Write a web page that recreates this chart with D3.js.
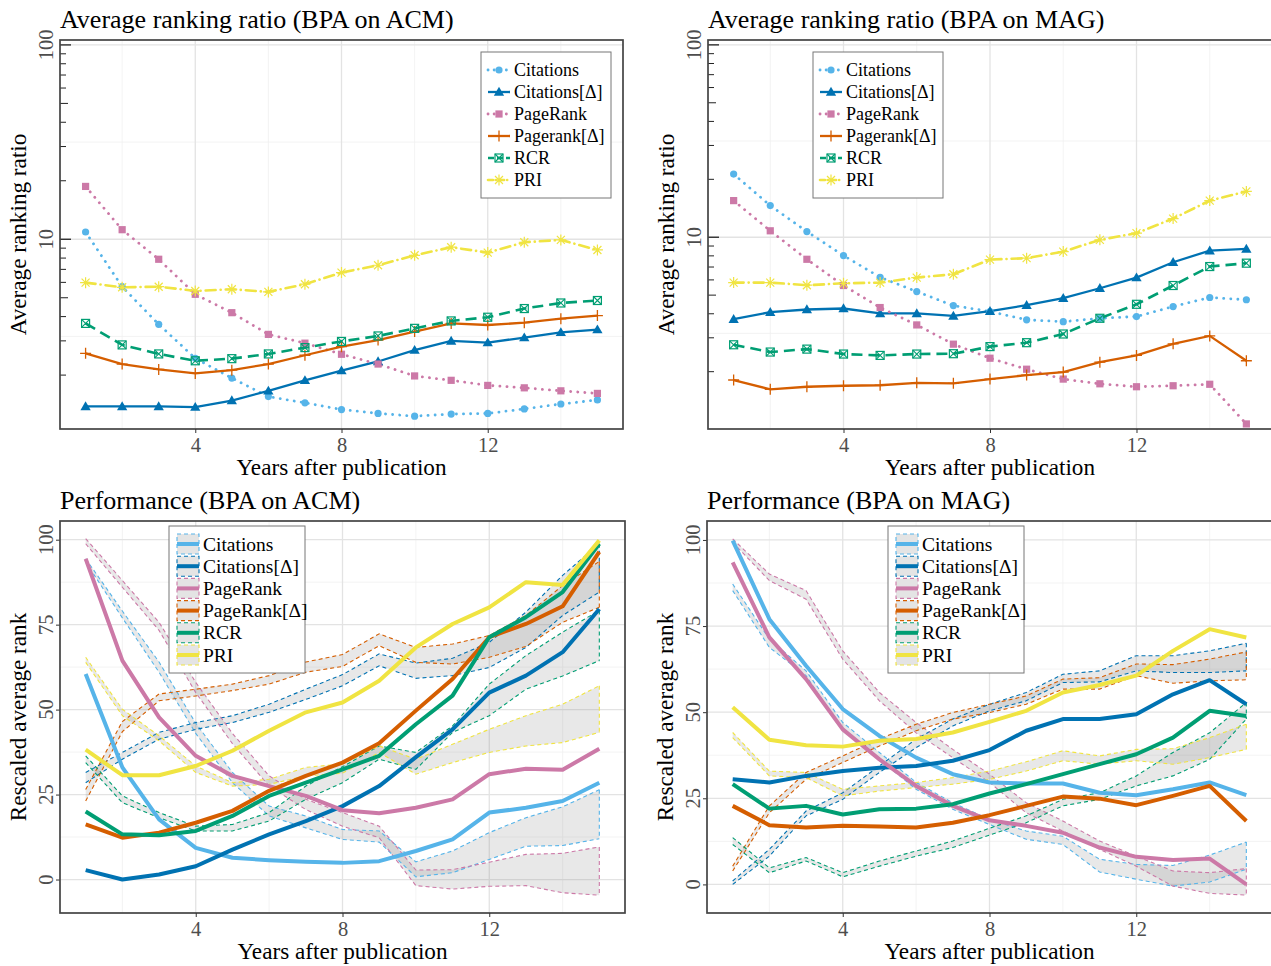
<!DOCTYPE html>
<html><head><meta charset="utf-8">
<script src="https://cdn.jsdelivr.net/npm/d3@7"></script>
<style>body{margin:0;background:#fff} text{font-family:"Liberation Serif","Times New Roman",serif}</style>
</head><body><svg id="c" width="1271" height="966"></svg>
<script>
// ---------- data ----------
const years = [1,2,3,4,5,6,7,8,9,10,11,12,13,14,15];
const ratioNames = ["Citations","Citations[Δ]","PageRank","Pagerank[Δ]","RCR","PRI"];
const perfNames  = ["Citations","Citations[Δ]","PageRank","PageRank[Δ]","RCR","PRI"];
const xTickValues = [4,8,12];
const logTickLabels = [10,100];
const perfTickValues = [0,25,50,75,100];

// Average ranking ratio, ACM
const ratioACM_Citations  = [10.9,5.7,3.65,2.44,1.93,1.55,1.44,1.33,1.27,1.23,1.26,1.27,1.34,1.42,1.49];
const ratioACM_CitationsD = [1.38,1.38,1.38,1.37,1.48,1.66,1.88,2.11,2.35,2.69,3.0,2.94,3.12,3.32,3.43];
const ratioACM_PageRank   = [18.7,11.2,7.89,5.21,4.19,3.24,2.92,2.56,2.28,1.98,1.88,1.77,1.72,1.66,1.61];
const ratioACM_PageRankD  = [2.59,2.28,2.14,2.04,2.12,2.28,2.53,2.80,3.03,3.35,3.69,3.62,3.72,3.90,4.05];
const ratioACM_RCR        = [3.69,2.86,2.57,2.37,2.43,2.57,2.77,2.98,3.18,3.48,3.80,3.97,4.40,4.70,4.84];
const ratioACM_PRI        = [5.98,5.66,5.70,5.42,5.53,5.36,5.87,6.74,7.35,8.27,9.1,8.54,9.65,9.92,8.81];

// Average ranking ratio, MAG
const ratioMAG_Citations  = [21.3,14.6,10.7,8.03,6.19,5.22,4.41,4.11,3.72,3.64,3.79,3.87,4.36,4.86,4.73];
const ratioMAG_CitationsD = [3.75,4.08,4.21,4.26,4.02,4.02,3.90,4.13,4.43,4.82,5.43,6.17,7.41,8.52,8.70];
const ratioMAG_PageRank   = [15.5,10.8,7.68,5.61,4.31,3.50,2.78,2.35,2.06,1.83,1.73,1.67,1.69,1.72,1.07];
const ratioMAG_PageRankD  = [1.81,1.62,1.67,1.69,1.70,1.75,1.74,1.83,1.92,1.99,2.24,2.43,2.79,3.07,2.28];
const ratioMAG_RCR        = [2.76,2.53,2.62,2.47,2.43,2.47,2.48,2.70,2.83,3.14,3.79,4.48,5.61,7.04,7.33];
const ratioMAG_PRI        = [5.81,5.81,5.63,5.76,5.81,6.17,6.42,7.65,7.78,8.42,9.69,10.5,12.5,15.5,17.3];

// Performance, ACM (main lines)
const perfACM_Citations  = [60.5,33,17.7,9.3,6.4,5.7,5.2,4.9,5.4,8.4,11.8,19.7,21.1,23.1,28.5];
const perfACM_CitationsD = [2.75,0,1.5,3.9,8.8,13.3,17.2,21.6,27.5,36,44.2,55,60,66.9,79.6];
const perfACM_PageRank   = [94.4,64.4,47.7,36.4,30.5,27.5,24.6,20.4,19.5,21.1,23.6,31,32.6,32.3,38.5];
const perfACM_PageRankD  = [16.2,12.3,13.8,16.7,20.2,26.1,30.5,34.4,40.1,49.7,59,71.3,75.2,80.4,96.4];
const perfACM_RCR        = [20,13.3,13,14.3,18.7,24.6,28.5,32.4,36.4,45.7,54.1,71.3,77.2,84.6,98.8];
const perfACM_PRI        = [38.2,30.7,30.7,33.4,37.9,43.8,49.2,52.1,58.5,68.3,75.2,80.1,87.5,86.7,99.8];
// Performance, ACM (band bounds)
const perfACM_Citations_hi  = [94.4,79,64,46,31.5,21.6,18.7,14.7,14.3,5.2,8.4,13.8,18.2,21.4,26.4];
const perfACM_Citations_lo  = [93.4,77,61,43,28.5,18.7,15.2,11.8,11,0.8,2.0,5.9,9.8,10,12];
const perfACM_CitationsD_hi = [31.5,37.4,43.3,46.2,48.2,51.6,56,60.3,66.4,63.7,65.1,69.8,78.7,89.5,98.8];
const perfACM_CitationsD_lo = [28.5,35.4,41.3,44.2,46.2,49.2,53,57,62.9,59.2,60,62.4,68.3,77.7,84.6];
const perfACM_PageRank_hi   = [100.3,88,75.7,58,43,30.5,23.6,19.7,15.7,2.8,2.9,5.1,7.4,7.7,9.6];
const perfACM_PageRank_lo   = [98.8,86,73.3,55,40,27.5,20.6,15.7,12.3,-1.8,-2.8,-2.0,-1.8,-3.9,-4.6];
const perfACM_PageRankD_hi  = [26.5,46.5,54.6,56,57.5,60,64,66.2,72.3,68.3,69.3,71.8,77.7,86.5,93.6];
const perfACM_PageRankD_lo  = [23.1,43.5,52.6,54,55.6,57.5,61,62.7,68.8,63.9,63.4,65.4,68.6,75.7,80.1];
const perfACM_RCR_hi        = [36.4,24.6,19.7,15.7,16.2,19.7,27.5,33.2,39.3,37.4,45.2,57.5,65.9,72.8,79.2];
const perfACM_RCR_lo        = [34.4,22.6,18.2,14.3,14.3,17.2,23.6,28.5,35.4,32.4,43.3,48.2,56,59.9,64.4];
const perfACM_PRI_hi        = [65.4,50.1,42.3,33.4,28.5,29.5,33,34,39.3,35.4,39.8,44.2,48.2,51.6,57];
const perfACM_PRI_lo        = [63.9,48.2,40.8,31.5,27.5,28,30.5,31.3,37.4,31,34.4,37.4,39.3,40.3,43.3];

// Performance, MAG (main lines)
const perfMAG_Citations  = [99.8,77,63.5,50.9,43.1,36.8,32,29.6,29.3,29.3,26.6,25.9,27.6,29.6,25.9];
const perfMAG_CitationsD = [30.5,29.6,31.5,32.9,33.9,34.4,35.9,39,44.6,48,48,49.4,55.2,59.3,52.3];
const perfMAG_PageRank   = [93.5,71.7,59.6,45,36.3,28.6,22.8,18.6,17,15,10.7,8,7.1,7.5,0];
const perfMAG_PageRankD  = [22.8,17.2,16.5,17,16.8,16.5,17.9,20.1,22.8,25.5,24.9,23,25.7,28.6,18.4];
const perfMAG_RCR        = [29.1,22,22.8,20.3,21.8,22,23.3,26.4,29.1,32,34.9,37.8,42.6,50.4,48.9];
const perfMAG_PRI        = [51.4,42,40.4,40,41.7,42.2,44.1,47.2,50.4,55.7,57.9,60.6,67.8,74.1,71.7];
// Performance, MAG (band bounds)
const perfMAG_Citations_hi  = [87.2,71.2,62,47,38.3,29.6,23.7,18.9,15.5,14,7.3,5.8,5.5,8.5,12.3];
const perfMAG_Citations_lo  = [85.3,68.8,60.6,44.6,36.3,27.6,21.8,17.4,13.1,11.6,3.6,1.5,-0.5,0.7,4.4];
const perfMAG_CitationsD_hi = [1,10.2,21.3,26.6,34.4,42.2,48,52.3,55.7,61,62,66.4,66.4,67.8,70];
const perfMAG_CitationsD_lo = [0,8.2,19.9,24.7,32.5,39.7,46,50.4,53.3,58.6,58.8,62,61.5,61.5,62];
const perfMAG_PageRank_hi   = [100.3,90.1,85.3,67.8,55.7,47,39.2,32,23.7,18.4,12.6,8.2,3.9,3.4,4.6];
const perfMAG_PageRank_lo   = [99.3,88.2,82.8,65.4,53.3,44,36.8,29.6,20.8,15.5,10.2,5.3,-0.5,-2.6,-3.1];
const perfMAG_PageRankD_hi  = [5.3,22.8,32.5,37.3,42.2,46.5,49.9,52.3,54.7,59.6,60,64,63.8,65.4,67.5];
const perfMAG_PageRankD_lo  = [3.9,20.8,30.5,35.4,40.2,44.6,48,49.9,52.3,56.7,56.7,60.6,58.4,59.1,59.4];
const perfMAG_RCR_hi        = [13.6,4.8,7.8,3.4,6.8,9.7,12.6,16.3,19.9,24.7,26.6,31.5,38.3,44,52.8];
const perfMAG_RCR_lo        = [11.6,3.4,6.8,2.2,5.3,8.2,10.7,14.3,17.9,22.8,24.7,28.6,31.5,36.3,48];
const perfMAG_PRI_hi        = [44.1,32.9,32.5,27.6,28.6,29.6,31,32.9,35.6,38.8,37.3,39.2,39.4,42.6,46.5];
const perfMAG_PRI_lo        = [42.6,31.5,31,25.7,27.1,28.1,29.1,30.5,32.9,35.9,34.9,35.9,34.9,36.8,39.2];

// ---------- styles ----------
const colors = ["#56B4E9","#0072B2","#CC79A7","#D55E00","#009E73","#F0E442"];
const ratioStyles = [
  {dash:"0.1,7", width:2.8, cap:"round", marker:"circle"},
  {dash:null, width:2.3, cap:"butt", marker:"triangle"},
  {dash:"0.1,7", width:2.8, cap:"round", marker:"square"},
  {dash:null, width:2.3, cap:"butt", marker:"plus"},
  {dash:"11,6", width:2.6, cap:"butt", marker:"squarex"},
  {dash:"10,5,0.1,5", width:2.6, cap:"round", marker:"asterisk"}
];
const FONT = '"Liberation Serif","Times New Roman",serif';
const svg = d3.select("#c");

function drawMarker(g, type, cx, cy, color){
  if(type==="circle"){ g.append("circle").attr("cx",cx).attr("cy",cy).attr("r",3.6).attr("fill",color); }
  else if(type==="triangle"){ g.append("path").attr("transform",`translate(${cx},${cy+0.8})`).attr("d",d3.symbol(d3.symbolTriangle,46)()).attr("fill",color); }
  else if(type==="square"){ g.append("rect").attr("x",cx-3.6).attr("y",cy-3.6).attr("width",7.2).attr("height",7.2).attr("fill",color); }
  else if(type==="plus"){ g.append("path").attr("d",`M${cx-5.5},${cy}H${cx+5.5}M${cx},${cy-5.5}V${cy+5.5}`).attr("stroke",color).attr("stroke-width",1.3).attr("fill","none"); }
  else if(type==="squarex"){
    g.append("rect").attr("x",cx-4).attr("y",cy-4).attr("width",8).attr("height",8).attr("fill","none").attr("stroke",color).attr("stroke-width",1.2);
    g.append("path").attr("d",`M${cx-4},${cy-4}L${cx+4},${cy+4}M${cx+4},${cy-4}L${cx-4},${cy+4}`).attr("stroke",color).attr("stroke-width",1.1);
  } else if(type==="asterisk"){
    g.append("path").attr("d",`M${cx-5.5},${cy}H${cx+5.5}M${cx},${cy-5.5}V${cy+5.5}M${cx-4},${cy-4}L${cx+4},${cy+4}M${cx+4},${cy-4}L${cx-4},${cy+4}`).attr("stroke",color).attr("stroke-width",1.2).attr("fill","none");
  }
}

let clipId = 0;
function panelBase(p, x, y, xGridMinor, yMajor, yMinor){
  const g = svg.append("g");
  const id = "clip"+(clipId++);
  svg.append("defs").append("clipPath").attr("id",id).append("rect")
    .attr("x",p.x0).attr("y",p.y0).attr("width",p.x1-p.x0).attr("height",p.y1-p.y0);
  const grid = g.append("g");
  xGridMinor.forEach(v=>grid.append("line").attr("x1",x(v)).attr("x2",x(v)).attr("y1",p.y0).attr("y2",p.y1).attr("stroke","#f0f0f0").attr("stroke-width",0.8));
  yMinor.forEach(v=>grid.append("line").attr("y1",y(v)).attr("y2",y(v)).attr("x1",p.x0).attr("x2",p.x1).attr("stroke","#f0f0f0").attr("stroke-width",0.8));
  xTickValues.forEach(v=>grid.append("line").attr("x1",x(v)).attr("x2",x(v)).attr("y1",p.y0).attr("y2",p.y1).attr("stroke","#e3e3e3").attr("stroke-width",1.3));
  yMajor.forEach(v=>grid.append("line").attr("y1",y(v)).attr("y2",y(v)).attr("x1",p.x0).attr("x2",p.x1).attr("stroke","#e3e3e3").attr("stroke-width",1.3));
  const plot = g.append("g").attr("clip-path",`url(#${id})`);
  return {g, plot};
}

function frameAndAxes(g, p, x, title, ytitle, titleX){
  g.append("rect").attr("x",p.x0).attr("y",p.y0).attr("width",p.x1-p.x0).attr("height",p.y1-p.y0)
    .attr("fill","none").attr("stroke","#444").attr("stroke-width",1.7);
  const xa = g.append("g").attr("transform",`translate(0,${p.y1})`)
    .call(d3.axisBottom(x).tickValues(xTickValues).tickSize(4).tickPadding(4).tickFormat(d3.format("d")));
  xa.select(".domain").remove();
  xa.selectAll("line").attr("stroke","#333");
  xa.selectAll("text").attr("font-family",FONT).attr("font-size",20.5).attr("fill","#4d4d4d");
  g.append("text").attr("x",(p.x0+p.x1)/2).attr("y",p.y1+46).attr("text-anchor","middle")
    .attr("font-size",23.2).attr("font-family",FONT).text("Years after publication");
  g.append("text").attr("x",titleX).attr("y",p.y0-12).attr("font-size",26).attr("font-family",FONT).text(title);
  g.append("text").attr("transform",`translate(${p.x0-34},${(p.y0+p.y1)/2}) rotate(-90)`).attr("text-anchor","middle")
    .attr("font-size",23.2).attr("font-family",FONT).text(ytitle);
}

function ratioPanel(p, series, yDomain, title, legendX){
  const x = d3.scaleLinear().domain([0.3,15.7]).range([p.x0,p.x1]);
  const y = d3.scaleLog().domain(yDomain).range([p.y1,p.y0]);
  const {g, plot} = panelBase(p, x, y, [2,6,10,14], [10,100], [Math.sqrt(10), Math.sqrt(1000)]);
  const line = d3.line().x((d,i)=>x(years[i])).y(d=>y(d));
  series.forEach((s,k)=>{
    const st = ratioStyles[k];
    plot.append("path").attr("d",line(s)).attr("fill","none").attr("stroke",colors[k])
      .attr("stroke-width",st.width).attr("stroke-linecap",st.cap).attr("stroke-dasharray",st.dash);
  });
  series.forEach((s,k)=>{
    s.forEach((v,i)=>drawMarker(plot, ratioStyles[k].marker, x(years[i]), y(v), colors[k]));
  });
  // log ticks inside left border
  const lt = g.append("g");
  [1,10].forEach(dec=>{
    [2,3,4,5,6,7,8,9].forEach(m=>{
      const v=dec*m; const len = m===5?8:6;
      lt.append("line").attr("x1",p.x0).attr("x2",p.x0+len).attr("y1",y(v)).attr("y2",y(v)).attr("stroke","#222").attr("stroke-width",1);
    });
  });
  logTickLabels.forEach(v=>{
    lt.append("line").attr("x1",p.x0).attr("x2",p.x0+11).attr("y1",y(v)).attr("y2",y(v)).attr("stroke","#222").attr("stroke-width",1.3);
    g.append("text").attr("transform",`translate(${p.x0-7},${y(v)}) rotate(-90)`).attr("text-anchor","middle")
      .attr("font-size",20.5).attr("font-family",FONT).attr("fill","#4d4d4d").text(v);
  });
  frameAndAxes(g, p, x, title, "Average ranking ratio", p.x0);
  // legend
  const lg = g.append("g");
  lg.append("rect").attr("x",legendX).attr("y",52).attr("width",130).attr("height",146).attr("fill","#fff").attr("stroke","#777").attr("stroke-width",1);
  ratioNames.forEach((n,k)=>{
    const cy = 70 + k*22; const st = ratioStyles[k];
    lg.append("line").attr("x1",legendX+7).attr("x2",legendX+29).attr("y1",cy).attr("y2",cy)
      .attr("stroke",colors[k]).attr("stroke-width",st.width).attr("stroke-linecap",st.cap)
      .attr("stroke-dasharray", st.dash ? (k===0||k===2 ? "0.1,6" : (k===4?"6,3":"5,3,0.1,3")) : null);
    drawMarker(lg, st.marker, legendX+18, cy, colors[k]);
    lg.append("text").attr("x",legendX+33).attr("y",cy+6).attr("font-size",18).attr("font-family",FONT).text(n);
  });
}

function perfPanel(p, mains, his, los, yDomain, title, legendX){
  const x = d3.scaleLinear().domain([0.3,15.7]).range([p.x0,p.x1]);
  const y = d3.scaleLinear().domain(yDomain).range([p.y1,p.y0]);
  const {g, plot} = panelBase(p, x, y, [2,6,10,14], perfTickValues, [12.5,37.5,62.5,87.5]);
  const area = d3.area().x((d,i)=>x(years[i])).y0(d=>y(d[1])).y1(d=>y(d[0]));
  const line = d3.line().x((d,i)=>x(years[i])).y(d=>y(d));
  mains.forEach((s,k)=>{
    const pairs = his[k].map((h,i)=>[h,los[k][i]]);
    plot.append("path").attr("d",area(pairs)).attr("fill","#808080").attr("fill-opacity",0.18);
  });
  mains.forEach((s,k)=>{
    [his[k],los[k]].forEach(b=>plot.append("path").attr("d",line(b)).attr("fill","none").attr("stroke",colors[k])
      .attr("stroke-width",1.1).attr("stroke-dasharray","4,3"));
    plot.append("line").attr("x1",x(15)).attr("x2",x(15)).attr("y1",y(his[k][14])).attr("y2",y(los[k][14]))
      .attr("stroke",colors[k]).attr("stroke-width",1.1).attr("stroke-dasharray","4,3");
  });
  mains.forEach((s,k)=>{
    plot.append("path").attr("d",line(s)).attr("fill","none").attr("stroke",colors[k]).attr("stroke-width",4).attr("stroke-linejoin","round");
  });
  const ya = g.append("g").attr("transform",`translate(${p.x0},0)`)
    .call(d3.axisLeft(y).tickValues(perfTickValues).tickSize(4).tickFormat(()=>""));
  ya.select(".domain").remove();
  ya.selectAll("line").attr("stroke","#333");
  perfTickValues.forEach(v=>{
    g.append("text").attr("transform",`translate(${p.x0-7},${y(v)}) rotate(-90)`).attr("text-anchor","middle")
      .attr("font-size",20.5).attr("font-family",FONT).attr("fill","#4d4d4d").text(v);
  });
  frameAndAxes(g, p, x, title, "Rescaled average rank", p.x0);
  const lg = g.append("g");
  lg.append("rect").attr("x",legendX).attr("y",526).attr("width",136).attr("height",147).attr("fill","#fff").attr("stroke","#777").attr("stroke-width",1);
  perfNames.forEach((n,k)=>{
    const cy = 544 + k*22.2;
    lg.append("rect").attr("x",legendX+8).attr("y",cy-10).attr("width",22).attr("height",20)
      .attr("fill","#e4e4e4").attr("stroke",colors[k]).attr("stroke-width",1.1).attr("stroke-dasharray","4,3");
    lg.append("line").attr("x1",legendX+8).attr("x2",legendX+30).attr("y1",cy).attr("y2",cy).attr("stroke",colors[k]).attr("stroke-width",4);
    lg.append("text").attr("x",legendX+34).attr("y",cy+6.5).attr("font-size",19.5).attr("font-family",FONT).text(n);
  });
}

ratioPanel({x0:60,x1:623,y0:40,y1:429},
  [ratioACM_Citations,ratioACM_CitationsD,ratioACM_PageRank,ratioACM_PageRankD,ratioACM_RCR,ratioACM_PRI],
  [1.056,106], "Average ranking ratio (BPA on ACM)", 481);
ratioPanel({x0:708,x1:1272,y0:40,y1:429},
  [ratioMAG_Citations,ratioMAG_CitationsD,ratioMAG_PageRank,ratioMAG_PageRankD,ratioMAG_RCR,ratioMAG_PRI],
  [1.007,106], "Average ranking ratio (BPA on MAG)", 813);
perfPanel({x0:60,x1:625,y0:521,y1:913},
  [perfACM_Citations,perfACM_CitationsD,perfACM_PageRank,perfACM_PageRankD,perfACM_RCR,perfACM_PRI],
  [perfACM_Citations_hi,perfACM_CitationsD_hi,perfACM_PageRank_hi,perfACM_PageRankD_hi,perfACM_RCR_hi,perfACM_PRI_hi],
  [perfACM_Citations_lo,perfACM_CitationsD_lo,perfACM_PageRank_lo,perfACM_PageRankD_lo,perfACM_RCR_lo,perfACM_PRI_lo],
  [-9.85,105.5], "Performance (BPA on ACM)", 169);
perfPanel({x0:707,x1:1272,y0:521,y1:913},
  [perfMAG_Citations,perfMAG_CitationsD,perfMAG_PageRank,perfMAG_PageRankD,perfMAG_RCR,perfMAG_PRI],
  [perfMAG_Citations_hi,perfMAG_CitationsD_hi,perfMAG_PageRank_hi,perfMAG_PageRankD_hi,perfMAG_RCR_hi,perfMAG_PRI_hi],
  [perfMAG_Citations_lo,perfMAG_CitationsD_lo,perfMAG_PageRank_lo,perfMAG_PageRankD_lo,perfMAG_RCR_lo,perfMAG_PRI_lo],
  [-8.3,105.5], "Performance (BPA on MAG)", 888);
</script></body></html>
